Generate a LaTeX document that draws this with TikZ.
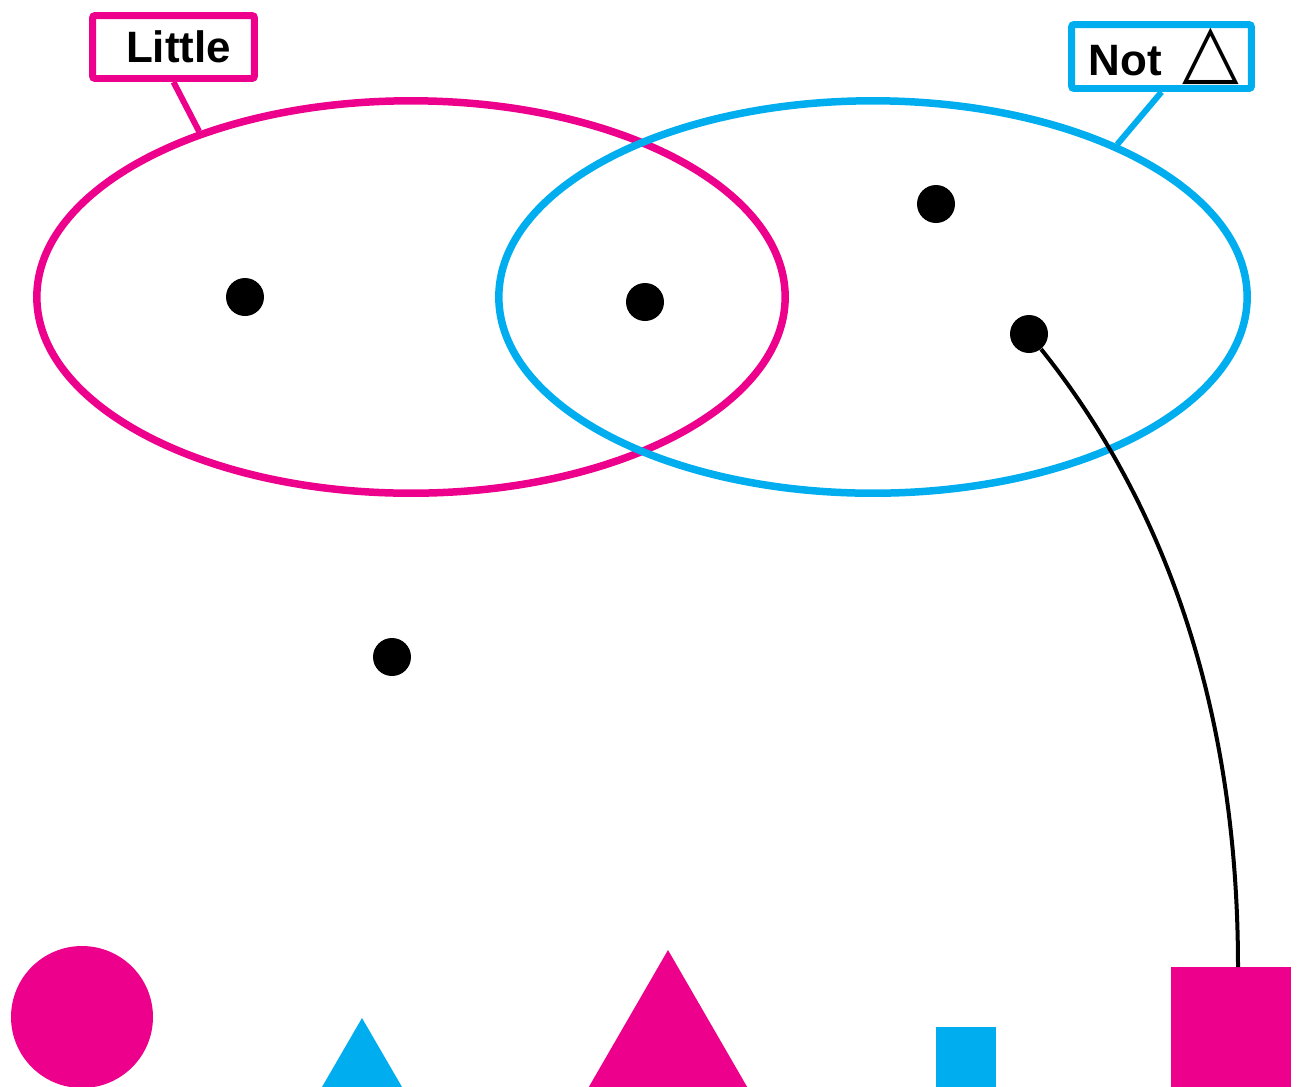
\documentclass[tikz,border=0pt]{standalone}
\usepackage{fontspec}
\setmainfont{Liberation Sans}
\newfontfamily\symfont{DejaVu Sans}
\usetikzlibrary{shapes.geometric,calc}
\definecolor{vpink}{HTML}{EC008C}
\definecolor{vblue}{HTML}{00AEEF}

\begin{document}
\begin{tikzpicture}[x=0.02cm, y=-0.02cm,
  set/.style={draw, ellipse, line width=0.15cm, minimum width=14.97cm, minimum height=7.85cm, inner sep=0pt},
  tag/.style={draw, fill=white, line width=0.14cm, rounded corners=1.5pt, inner sep=0pt,
              font=\bfseries\fontsize{25}{30}\selectfont},
  pt/.style={circle, fill=black, inner sep=0pt, minimum size=0.76cm},
  link/.style={line width=0.12cm},
  piece/.style={inner sep=0pt, outer sep=0pt},
]
\useasboundingbox (0,0) rectangle (1299,1086);
\clip (0,0) rectangle (1299,1086);

% --- Sets ---
\node[set, vpink] (little) at (411,297) {};
\node[set, vblue] (nottri) at (873,297) {};

% --- Set labels ---
\node[tag, draw=vpink, minimum width=3.24cm, minimum height=1.26cm] (ltag) at (173.5,47) {\hspace{0.2cm}Little};
\node[tag, draw=vblue, minimum width=3.6cm, minimum height=1.28cm] (ntag) at (1161.5,56.5)
  {\hspace{0.1cm}Not\hspace{0.42cm}{\symfont\mdseries\fontsize{42}{42}\selectfont △}};
\draw[link, vpink] (ltag.south) -- (little.142);
\draw[link, vblue] (ntag.south) -- (nottri.32);

% --- Elements ---
\node[pt] (e1) at (245,297) {};
\node[pt] (e2) at (645,302) {};
\node[pt] (e3) at (936,204) {};
\node[pt] (e4) at (1029,334) {};
\node[pt] (e5) at (392,657) {};

% --- Pieces ---
\node[piece, circle, fill=vpink, minimum size=2.84cm] (p1) at (82,1017) {};
\fill[vblue] (362,1018) -- (420,1118) -- (304,1118) -- cycle;
\fill[vpink] (668,950) -- (768,1123) -- (568,1123) -- cycle;
\node[piece, fill=vblue, minimum width=1.2cm, minimum height=1.2cm] (p4) at (966,1057) {};
\node[piece, fill=vpink, minimum width=2.42cm, minimum height=2.42cm] (p5) at (1231,1027.5) {};

\draw[line width=0.08cm] (e4) .. controls +(140,175) and +(0,-250) .. ($(p5.north)+(7,0)$);
\end{tikzpicture}
\end{document}
